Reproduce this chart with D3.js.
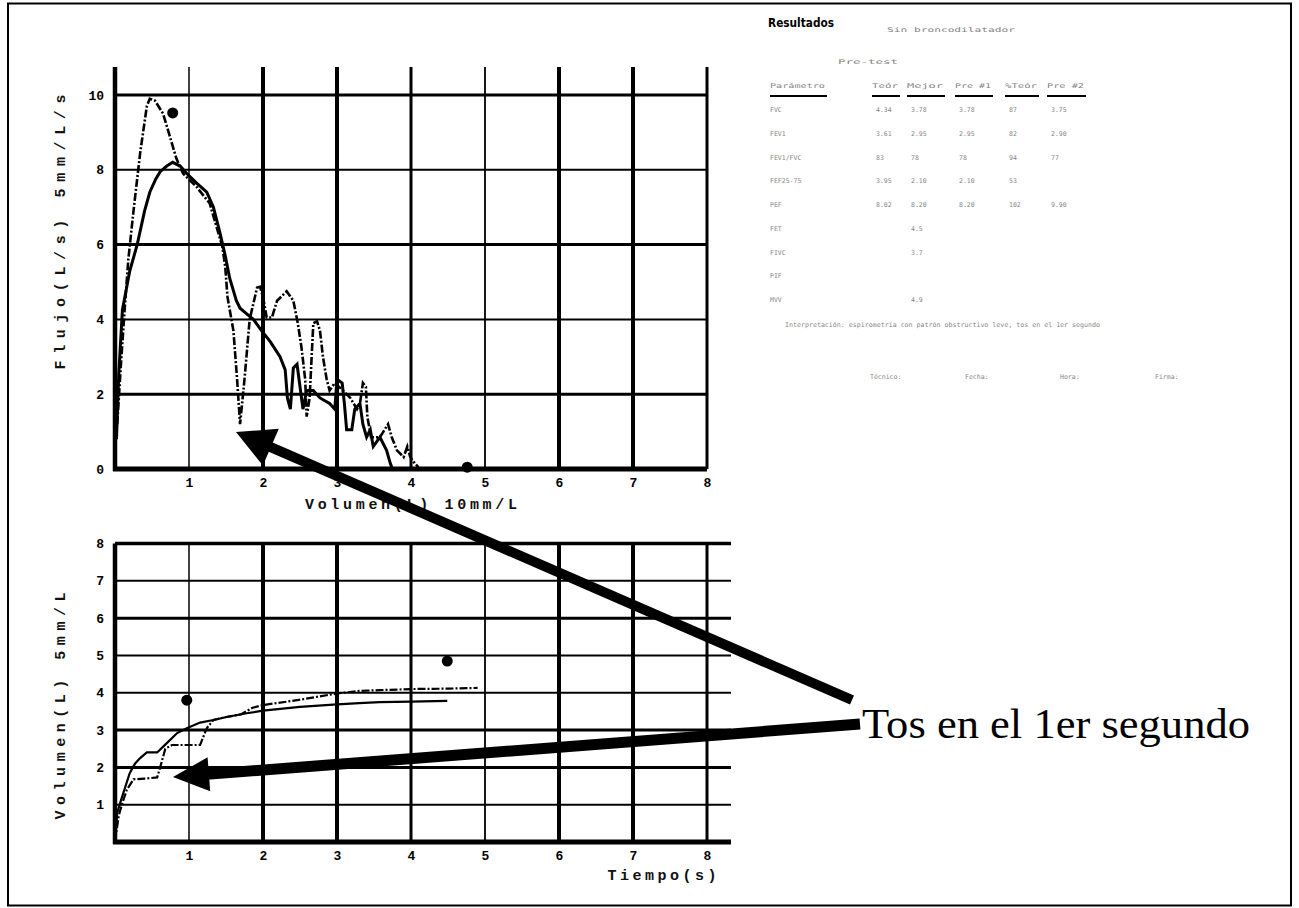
<!DOCTYPE html>
<html>
<head>
<meta charset="utf-8">
<script src="https://cdn.jsdelivr.net/npm/d3@7"></script>
<style>
  html, body { margin: 0; padding: 0; background: #fff; }
  svg { display: block; }
</style>
</head>
<body>
<svg id="chart" width="1299" height="908"></svg>
<script>
// ---------------- DATA ----------------
// Flow-volume (top chart): Volumen (L) vs Flujo (L/s)
const fvSolidVol  = [0.02,0.05,0.1,0.2,0.3,0.4,0.47,0.55,0.61,0.7,0.78,0.88,0.97,1.1,1.24,1.33,1.42,1.49,1.55,1.64,1.69,1.78,1.87,1.98,2.1,2.23,2.3,2.33,2.37,2.41,2.46,2.5,2.54,2.59,2.68,2.77,2.9,2.97,3.0,3.07,3.1,3.13,3.2,3.24,3.31,3.35,3.4,3.45,3.49,3.58,3.67,3.72,3.74];
const fvSolidFlow = [0.8,2.5,4.25,5.3,6.0,6.9,7.4,7.75,7.95,8.1,8.2,8.1,7.9,7.65,7.4,7.0,6.3,5.7,5.1,4.5,4.3,4.15,4.0,3.7,3.4,3.0,2.65,1.9,1.6,2.7,2.8,2.2,1.6,2.1,2.1,1.9,1.75,1.6,2.4,2.3,1.75,1.05,1.05,1.6,1.75,1.2,0.85,1.05,0.6,0.85,0.5,0.15,0.05];
const fvDashVol   = [0.03,0.08,0.13,0.18,0.25,0.34,0.43,0.47,0.54,0.65,0.74,0.83,0.92,1.1,1.28,1.45,1.49,1.52,1.6,1.65,1.69,1.75,1.82,1.92,1.96,2.0,2.05,2.12,2.19,2.32,2.41,2.47,2.52,2.57,2.59,2.63,2.68,2.73,2.77,2.81,2.86,2.9,2.97,3.08,3.18,3.27,3.31,3.35,3.39,3.41,3.46,3.58,3.69,3.74,3.81,3.9,3.95,3.99,4.05,4.1];
const fvDashFlow  = [1.2,2.8,4.25,5.6,6.9,8.45,9.7,9.9,9.85,9.5,8.9,8.3,7.9,7.55,7.1,5.95,5.4,4.6,3.7,2.4,1.2,2.4,4.0,4.85,4.87,4.6,4.05,4.05,4.5,4.75,4.5,3.9,3.25,2.4,1.4,1.9,3.9,3.95,3.7,3.0,2.4,2.1,2.3,2.1,1.9,1.6,1.75,2.3,2.2,1.4,0.85,0.85,1.2,0.85,0.5,0.32,0.6,0.32,0.15,0.05];
const fvPredVol   = [0.78, 4.76];
const fvPredFlow  = [9.52, 0.05];

// Volume-time (bottom chart): Tiempo (s) vs Volumen (L)
const vtSolidTime = [0,0.03,0.07,0.11,0.2,0.27,0.34,0.43,0.57,0.7,0.84,0.97,1.15,1.33,1.51,1.78,2.0,2.5,2.95,3.3,3.58,4.0,4.49];
const vtSolidVol  = [0,0.78,1.05,1.3,1.85,2.1,2.25,2.4,2.4,2.65,2.92,3.05,3.2,3.27,3.35,3.45,3.52,3.62,3.68,3.72,3.75,3.76,3.78];
const vtDashTime  = [0,0.05,0.1,0.16,0.25,0.4,0.57,0.61,0.68,0.77,0.95,1.15,1.24,1.33,1.5,1.7,1.86,2.0,2.46,3.0,3.3,3.58,4.03,4.5,4.9];
const vtDashVol   = [0,0.7,1.05,1.4,1.68,1.7,1.73,2.0,2.5,2.6,2.6,2.6,3.05,3.27,3.35,3.42,3.6,3.67,3.8,3.98,4.05,4.07,4.1,4.11,4.13];
const vtPredTime  = [0.97, 4.49];
const vtPredVol   = [3.8, 4.85];

// Tick labels
const fvXTicks = [1,2,3,4,5,6,7,8];
const fvYTicks = [0,2,4,6,8,10];
const vtXTicks = [1,2,3,4,5,6,7,8];
const vtYTicks = [1,2,3,4,5,6,7,8];

// Axis titles and annotation
const fvXTitle = "Volumen(L)  10mm/L";
const fvYTitle = "Flujo(L/s)  5mm/L/s";
const vtXTitle = "Tiempo(s)";
const vtYTitle = "Volumen(L)  5mm/L";
const noteText = "Tos en el 1er segundo";

// Results table (printed very small in the source, barely legible)
const tableTitle = "Resultados";
const tableSubtitle = "Sin broncodilatador";
const tableSubtitle2 = "Pre-test";
const tableHeaders = ["Parámetro", "Teór", "Mejor", "Pre #1", "%Teór", "Pre #2"];
const tableRowNames = ["FVC", "FEV1", "FEV1/FVC", "FEF25-75", "PEF", "FET", "FIVC", "PIF", "MVV"];
const tableRowValues = [
  ["4.34", "3.78", "3.78", "87", "3.75"],
  ["3.61", "2.95", "2.95", "82", "2.90"],
  ["83", "78", "78", "94", "77"],
  ["3.95", "2.10", "2.10", "53", ""],
  ["8.02", "8.20", "8.20", "102", "9.90"],
  ["", "4.5", "", "", ""],
  ["", "3.7", "", "", ""],
  ["", "", "", "", ""],
  ["", "4.9", "", "", ""]
];
const tableNote = "Interpretación: espirometría con patrón obstructivo leve, tos en el 1er segundo";
const tableFooter = ["Técnico:", "Fecha:", "Hora:", "Firma:"];

// ---------------- DRAW ----------------
const svg = d3.select("#chart");
const monoFont = "'Liberation Mono', 'DejaVu Sans Mono', monospace";

// outer frame
svg.append("rect").attr("x", 8).attr("y", 3.5).attr("width", 1283).attr("height", 902)
  .attr("fill", "none").attr("stroke", "#000").attr("stroke-width", 2);

// scales
const fvX = d3.scaleLinear().domain([0, 8]).range([115, 707]);
const fvY = d3.scaleLinear().domain([0, 10]).range([469, 95]);
const vtX = d3.scaleLinear().domain([0, 8]).range([115, 707]);
const vtY = d3.scaleLinear().domain([0, 8]).range([842, 543.5]);

// grid line weights (style)
const fvVW = {1: 1.5, 2: 4, 3: 4, 4: 3, 5: 1.8, 6: 4, 7: 4, 8: 3};
const fvHW = {2: 3, 4: 2, 6: 3, 8: 2, 10: 3};
const vtVW = {1: 1.5, 2: 4, 3: 4, 4: 3, 5: 1.8, 6: 4, 7: 4, 8: 3};
const vtHW = {1: 2, 2: 3, 3: 3, 4: 2, 5: 2, 6: 3, 7: 2, 8: 3.5};

function drawGrid(g, x, y, xt, yt, vw, hw, yTop, xRight) {
  g.selectAll(".vg").data(xt).join("line")
    .attr("x1", d => x(d)).attr("x2", d => x(d))
    .attr("y1", yTop).attr("y2", y(0))
    .attr("stroke", "#000").attr("stroke-width", d => vw[d] || 2);
  g.selectAll(".hg").data(yt.filter(d => d !== 0)).join("line")
    .attr("x1", x(0)).attr("x2", xRight)
    .attr("y1", d => y(d)).attr("y2", d => y(d))
    .attr("stroke", "#000").attr("stroke-width", d => hw[d] || 2);
  g.append("line").attr("x1", x(0)).attr("x2", x(0)).attr("y1", yTop).attr("y2", y(0) + 2)
    .attr("stroke", "#000").attr("stroke-width", 4.5);
  g.append("line").attr("x1", x(0) - 2).attr("x2", xRight).attr("y1", y(0)).attr("y2", y(0))
    .attr("stroke", "#000").attr("stroke-width", 5);
}

const gTop = svg.append("g");
drawGrid(gTop, fvX, fvY, fvXTicks, fvYTicks, fvVW, fvHW, 67, 707);
const gBot = svg.append("g");
drawGrid(gBot, vtX, vtY, vtXTicks, vtYTicks, vtVW, vtHW, 543.5, 731);

function styleAxis(sel) {
  sel.select(".domain").remove();
  sel.selectAll(".tick line").remove();
  sel.selectAll(".tick text").attr("font-family", monoFont).attr("font-size", 13)
    .attr("font-weight", "bold").attr("fill", "#000");
}
svg.append("g").attr("transform", "translate(104,0)")
  .call(d3.axisLeft(fvY).tickValues(fvYTicks).tickSize(0).tickPadding(0).tickFormat(d3.format("d")))
  .call(styleAxis);
svg.append("g").attr("transform", "translate(0,478)")
  .call(d3.axisBottom(fvX).tickValues(fvXTicks).tickSize(0).tickPadding(0).tickFormat(d3.format("d")))
  .call(styleAxis);
svg.append("g").attr("transform", "translate(104,0)")
  .call(d3.axisLeft(vtY).tickValues(vtYTicks).tickSize(0).tickPadding(0).tickFormat(d3.format("d")))
  .call(styleAxis);
svg.append("g").attr("transform", "translate(0,851)")
  .call(d3.axisBottom(vtX).tickValues(vtXTicks).tickSize(0).tickPadding(0).tickFormat(d3.format("d")))
  .call(styleAxis);

function title(txt, x, y, len, rot) {
  const t = svg.append("text").text(txt)
    .attr("font-family", monoFont).attr("font-size", 15).attr("font-weight", "bold")
    .attr("fill", "#111").attr("text-anchor", "middle")
    .attr("textLength", len).attr("lengthAdjust", "spacing");
  if (rot) t.attr("transform", `translate(${x},${y}) rotate(-90)`);
  else t.attr("x", x).attr("y", y);
}
title(fvXTitle, 411, 509, 212, false);
title(vtXTitle, 662, 880, 109, false);
title(fvYTitle, 65, 232, 275, true);
title(vtYTitle, 65, 706, 227, true);

function curve(g, x, y, xs, ys, dash, w) {
  const pts = xs.map((v, i) => [v, ys[i]]);
  g.append("path").datum(pts)
    .attr("d", d3.line().x(d => x(d[0])).y(d => y(d[1])))
    .attr("fill", "none").attr("stroke", "#000").attr("stroke-width", w)
    .attr("stroke-linejoin", "miter").attr("stroke-dasharray", dash);
}
curve(gTop, fvX, fvY, fvSolidVol, fvSolidFlow, null, 3);
curve(gTop, fvX, fvY, fvDashVol, fvDashFlow, "8,2,2,2", 2.6);
curve(gBot, vtX, vtY, vtSolidTime, vtSolidVol, null, 2.2);
curve(gBot, vtX, vtY, vtDashTime, vtDashVol, "8,2,2,2", 2.2);

gTop.selectAll(".pd").data(fvPredVol).join("circle")
  .attr("cx", d => fvX(d)).attr("cy", (d, i) => fvY(fvPredFlow[i])).attr("r", 5.5).attr("fill", "#000");
gBot.selectAll(".pd").data(vtPredTime).join("circle")
  .attr("cx", d => vtX(d)).attr("cy", (d, i) => vtY(vtPredVol[i])).attr("r", 5.5).attr("fill", "#000");

function arrow(tail, tip, shaftW, headLen, headHalf) {
  const dx = tail[0] - tip[0], dy = tail[1] - tip[1];
  const L = Math.hypot(dx, dy), ux = dx / L, uy = dy / L;
  const bx = tip[0] + ux * headLen, by = tip[1] + uy * headLen;
  const px = -uy, py = ux;
  svg.append("line").attr("x1", tail[0]).attr("y1", tail[1]).attr("x2", bx - ux * 2).attr("y2", by - uy * 2)
    .attr("stroke", "#000").attr("stroke-width", shaftW);
  svg.append("polygon")
    .attr("points", [tip, [bx + px * headHalf, by + py * headHalf], [bx - px * headHalf, by - py * headHalf]]
      .map(p => p.join(",")).join(" "))
    .attr("fill", "#000");
}
arrow([852, 700], [236, 432], 10, 38, 20);
arrow([860, 724], [173, 777], 11, 36, 17);

svg.append("text").text(noteText)
  .attr("x", 862).attr("y", 738)
  .attr("font-family", "'Liberation Serif', 'Times New Roman', serif")
  .attr("font-size", 43).attr("fill", "#000")
  .attr("textLength", 388).attr("lengthAdjust", "spacingAndGlyphs");

// results table
const tFont = "'DejaVu Sans Mono', monospace";
svg.append("text").text(tableTitle).attr("x", 768).attr("y", 27)
  .attr("font-family", "'DejaVu Sans Condensed', 'DejaVu Sans', sans-serif").attr("font-weight", "bold")
  .attr("font-size", 12).attr("textLength", 66).attr("lengthAdjust", "spacingAndGlyphs").attr("fill", "#000");
const tiny = (txt, x, y, len) => {
  const t = svg.append("text").text(txt).attr("x", x).attr("y", y)
    .attr("font-family", tFont).attr("font-size", 6.5).attr("fill", "#000").attr("opacity", 0.5);
  if (len) t.attr("textLength", len).attr("lengthAdjust", "spacingAndGlyphs");
  return t;
};
tiny(tableSubtitle, 887, 32, 128);
tiny(tableSubtitle2, 838, 64, 60);
const colX = [770, 872, 907, 955, 1005, 1047];
const colW = [57, 28, 38, 38, 34, 39];
tableHeaders.forEach((h, i) => {
  tiny(h, colX[i], 88, colW[i] - 2);
  svg.append("line").attr("x1", colX[i]).attr("x2", colX[i] + colW[i]).attr("y1", 96).attr("y2", 96)
    .attr("stroke", "#000").attr("stroke-width", 2);
});
const rowY = d3.scaleLinear().domain([0, 8]).range([112, 302]);
tableRowNames.forEach((n, r) => {
  tiny(n, colX[0], rowY(r));
  tableRowValues[r].forEach((v, c) => { if (v) tiny(v, colX[c + 1] + 4, rowY(r)); });
});
tiny(tableNote, 785, 327, 315);
tableFooter.forEach((f, i) => tiny(f, 870 + i * 95, 379));
</script>
</body>
</html>
